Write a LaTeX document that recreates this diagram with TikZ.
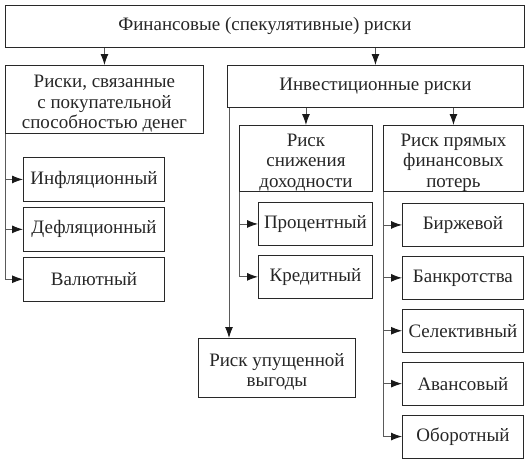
\documentclass[tikz,border=0pt]{standalone}
\usepackage{fontspec}
\setmainfont{Liberation Serif}
\usetikzlibrary{arrows.meta, positioning, calc}
\definecolor{linha}{RGB}{90, 90, 90}
\definecolor{borda}{RGB}{40, 40, 40}
\newcommand{\folga}{\rule{0pt}{21pt}}

\begin{document}
\begin{tikzpicture}[
            x=1pt, y=1pt,
            box/.style={draw=borda, line width=0.9pt, anchor=north west, align=center, inner xsep=2pt, inner ysep=0pt, font=\fontsize{19}{20.5}\selectfont, text=black!85},
            sub/.style={box, minimum width=141pt, minimum height=44pt},
            subr/.style={box, minimum width=121pt, minimum height=43pt},
            subm/.style={box, minimum width=114pt, minimum height=43pt},
            arr/.style={-{Latex[length=11pt, width=8pt, color=black!90]}, line width=0.9pt, draw=linha}
        ]
            \useasboundingbox (0,0) rectangle (529,-460);
            % Nodes
            \node[box, minimum width=519pt, minimum height=42pt] (fin) at (5,-5) {Финансовые (спекулятивные) риски};
            \node[box, minimum width=198pt, minimum height=68pt] (pok) at (5,-65) {\folga Риски, связанные\\с покупательной\\способностью денег};
            \node[box, minimum width=296pt, minimum height=42pt] (inv) at (227,-65) {Инвестиционные риски};
            \node[box, minimum width=133pt, minimum height=65pt] (doh) at (239,-125) {\folga Риск\\снижения\\доходности};
            \node[box, minimum width=140pt, minimum height=65pt] (pot) at (383,-125) {\folga Риск прямых\\финансовых\\потерь};

            \node[sub] (infl) at (23,-157) {Инфляционный};
            \node[sub, below=5pt of infl.south west, anchor=north west] (defl) {Дефляционный};
            \node[sub, below=5pt of defl.south west, anchor=north west] (val) {Валютный};

            \node[subm] (proc) at (258,-202) {Процентный};
            \node[subm, below=9pt of proc.south west, anchor=north west] (kred) {Кредитный};

            \node[subr] (birzh) at (402,-203) {Биржевой};
            \node[subr, below=9pt of birzh.south west, anchor=north west] (bank) {Банкротства};
            \node[subr, below=9pt of bank.south west, anchor=north west] (sel) {Селективный};
            \node[subr, below=9pt of sel.south west, anchor=north west] (avan) {Авансовый};
            \node[subr, below=9pt of avan.south west, anchor=north west] (obor) {Оборотный};

            \node[box, minimum width=157pt, minimum height=59pt] (upu) at (198,-338) {\folga Риск упущенной\\выгоды};

            % Arrows
            \coordinate (invl) at ($(inv.south west)+(2,0)$);
            \draw[arr] (fin.south -| pok.north) -- (pok.north);
            \draw[arr] (fin.south -| inv.north) -- (inv.north);
            \draw[arr] (inv.south -| doh.north) -- (doh.north);
            \draw[arr] (inv.south -| pot.north) -- (pot.north);
            \draw[arr] (invl) -- (invl |- upu.north);
            \foreach \n in {infl, defl, val}
                \draw[arr] (pok.south west) |- (\n.west);
            \foreach \n in {proc, kred}
                \draw[arr] (doh.south west) |- (\n.west);
            \foreach \n in {birzh, bank, sel, avan, obor}
                \draw[arr] (pot.south west) |- (\n.west);
        \end{tikzpicture}
\end{document}
